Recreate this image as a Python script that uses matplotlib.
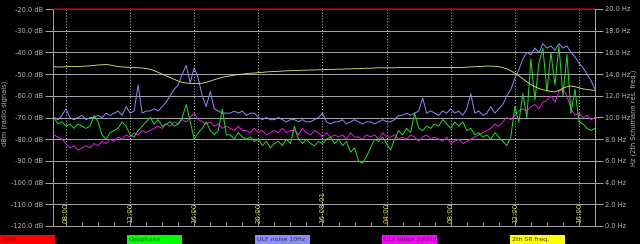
import numpy as np
import matplotlib
matplotlib.use("Agg")
import matplotlib.pyplot as plt
from matplotlib.patches import Rectangle

# time axis in hours since 16-07-31 00:00 (24 = 16-08-01 00:00), 15 min steps
hours = np.arange(7.25, 41.01, 0.25)

# ULF noise 10Hz (dB)
ulf10 = [
    -70, -71, -69, -66,   -70, -71, -70, -69,   -71, -70, -70, -69,
    -70, -68, -69, -68,   -67, -69, -65, -68,   -67, -55, -68, -67,
    -67, -66, -67, -65,   -63, -60, -57, -55,   -50, -46, -54, -47,
    -52, -60, -65, -58,   -66, -67, -68, -68,   -68, -67, -68, -67,
    -69, -68, -68, -70,   -71, -70, -71, -71,   -70, -71, -72, -71,
    -71, -72, -71, -72,   -72, -71, -70, -68,   -72, -73, -72, -72,
    -71, -73, -72, -71,   -72, -73, -72, -72,   -73, -72, -71, -72,
    -72, -71, -69, -69,   -68, -69, -68, -67,   -61, -68, -67, -68,
    -69, -67, -68, -66,   -68, -67, -69, -66,   -59, -68, -67, -69,
    -68, -65, -68, -66,   -64, -60, -57, -52,   -48, -43, -40, -41,
    -38, -40, -36, -38,   -37, -39, -36, -38,   -37, -40, -42, -45,
    -47, -50, -53, -57,
]

# Geophone (dB)
geophone = [
    -70, -73, -72, -74,   -73, -75, -73, -74,   -75, -74, -69, -72,
    -78, -80, -77, -76,   -75, -72, -74, -78,   -79, -76, -74, -72,
    -70, -73, -71, -74,   -73, -72, -74, -73,   -70, -64, -72, -80,
    -77, -75, -72, -76,   -78, -76, -66, -78,   -78, -80, -77, -79,
    -80, -79, -81, -80,   -83, -81, -84, -82,   -81, -83, -80, -82,
    -74, -80, -82, -80,   -82, -83, -81, -82,   -80, -79, -82, -80,
    -83, -81, -86, -84,   -90, -91, -88, -84,   -80, -81, -79, -82,
    -85, -80, -76, -78,   -75, -77, -68, -75,   -76, -74, -75, -73,
    -74, -71, -73, -75,   -72, -74, -72, -76,   -75, -78, -77, -79,
    -78, -80, -77, -79,   -81, -83, -79, -65,   -72, -59, -70, -43,
    -62, -45, -38, -58,   -40, -55, -37, -60,   -41, -68, -57, -72,
    -73, -75, -76, -75,
]

# ULF noise 100Hz (dB)
ulf100 = [
    -78, -79, -80, -82,   -84, -83, -85, -84,   -83, -84, -82, -83,
    -81, -82, -80, -81,   -79, -80, -78, -79,   -77, -78, -76, -77,
    -76, -75, -74, -75,   -73, -74, -72, -73,   -71, -72, -70, -68,
    -71, -72, -73, -72,   -74, -73, -75, -74,   -75, -76, -74, -76,
    -76, -77, -75, -77,   -76, -78, -77, -76,   -77, -75, -77, -76,
    -76, -78, -75, -77,   -78, -76, -77, -79,   -77, -79, -78, -79,
    -78, -80, -77, -79,   -79, -80, -78, -79,   -78, -80, -77, -79,
    -79, -78, -80, -79,   -80, -78, -79, -81,   -79, -78, -80, -79,
    -80, -81, -79, -82,   -81, -80, -82, -81,   -80, -79, -78, -77,
    -76, -75, -73, -74,   -72, -70, -71, -69,   -67, -66, -67, -65,
    -64, -66, -63, -62,   -60, -63, -58, -57,   -60, -66, -69, -68,
    -70, -69, -71, -70,
]

# 2th Schumann resonance frequency, drawn on the dB scale (dB)
sr_freq = [
    -46.6, -46.7, -46.7, -46.6,   -46.5, -46.5, -46.6, -46.4,   -46.3, -46.2, -46.0, -45.8,
    -45.7, -45.6, -45.8, -46.2,   -46.5, -46.7, -46.8, -46.9,   -47.0, -47.1, -47.2, -47.4,
    -47.8, -48.4, -49.2, -50.0,   -50.8, -51.6, -52.4, -53.2,   -53.8, -54.1, -54.3, -54.3,
    -54.3, -54.2, -53.8, -53.2,   -52.6, -52.0, -51.5, -51.1,   -50.8, -50.5, -50.2, -50.0,
    -49.8, -49.6, -49.5, -49.3,   -49.2, -49.0, -48.9, -48.8,   -48.7, -48.6, -48.5, -48.4,
    -48.4, -48.3, -48.2, -48.2,   -48.1, -48.1, -48.0, -48.0,   -47.9, -47.8, -47.8, -47.7,
    -47.7, -47.6, -47.6, -47.5,   -47.5, -47.4, -47.3, -47.3,   -47.2, -47.1, -47.1, -47.1,
    -47.1, -47.1, -47.0, -47.0,   -47.0, -47.0, -47.0, -47.0,   -47.0, -47.0, -47.0, -47.0,
    -47.0, -47.0, -47.0, -47.0,   -47.0, -47.0, -46.9, -46.8,   -46.7, -46.6, -46.5, -46.4,
    -46.3, -46.3, -46.4, -46.6,   -47.0, -47.6, -48.5, -49.6,   -50.8, -52.2, -53.6, -54.8,
    -55.8, -56.6, -57.2, -57.6,   -58.0, -58.2, -57.5, -56.5,   -55.8, -55.5, -55.8, -56.3,
    -56.8, -57.1, -57.3, -57.5,
]

# Time trace sits on the top border
time_level = [-20.0] * len(hours)

db_ticks = [-20, -30, -40, -50, -60, -70, -80, -90, -100, -110, -120]
hz_ticks = [20, 18, 16, 14, 12, 10, 8, 6, 4, 2, 0]
time_pos = [8, 12, 16, 20, 24, 28, 32, 36, 40]
time_labels = ["08:00", "12:00", "16:00", "20:00", "16-08-01", "04:00", "08:00", "12:00", "16:00"]

legend_names = ["Time", "Geophone", "ULF noise 10Hz", "ULF noise 100Hz", "2th SR freq."]
legend_colors = ["#ff0000", "#00ff00", "#8c8cff", "#ff00ff", "#ffff00"]

plt.rcParams["font.family"] = ["DejaVu Sans"]
txt = "#b8b8b8"

fig = plt.figure(figsize=(6.4, 2.44), dpi=100, facecolor="black")
ax = fig.add_axes([53 / 640, 1 - 226 / 244, 542 / 640, 217 / 244], facecolor="black")

# grid
for d in db_ticks:
    ax.axhline(d, color="#a8a8a8", lw=0.7, zorder=1)
for t in time_pos:
    ax.axvline(t, color="#d0d0d0", lw=0.7, ls=(0, (1, 2)), zorder=1)

ax.plot(hours, ulf10, color="#8c8cff", lw=0.7, zorder=3)
ax.plot(hours, ulf100, color="#e020e0", lw=0.7, zorder=4)
ax.plot(hours, geophone, color="#20e020", lw=0.7, zorder=5)
ax.plot(hours, sr_freq, color="#e8e880", lw=0.6, zorder=6)
ax.plot(hours, time_level, color="#900000", lw=1.2, zorder=7, clip_on=False)

ax.set_xlim(7.19, 41.0)
ax.set_ylim(-120, -20)

ax.spines["top"].set_visible(False)
for s in ["left", "right", "bottom"]:
    ax.spines[s].set_color("#a8a8a8")
    ax.spines[s].set_linewidth(0.7)

ax.set_yticks(db_ticks)
ax.set_yticklabels(["%.1f dB" % d for d in db_ticks])
ax.tick_params(axis="y", colors="#a8a8a8", labelcolor=txt, labelsize=4.8, length=6, width=0.7, pad=1)

# hourly small ticks on bottom, pointing up
ax.set_xticks(np.arange(8, 41, 1))
ax.set_xticklabels([])
ax.tick_params(axis="x", direction="in", colors="#a8a8a8", length=3, width=0.6)

for t, lab in zip(time_pos, time_labels):
    ax.text(t, -118.5, lab, rotation=90, ha="center", va="bottom",
            color="#e0e070", fontsize=5, zorder=8)

fig.text(5 / 640, 1 - 113 / 244, "dBm (radio signals)", rotation=90, color=txt,
         fontsize=4.8, ha="center", va="center")

ax2 = ax.twinx()
ax2.set_ylim(0, 20)
ax2.set_yticks(hz_ticks)
ax2.set_yticklabels(["%.1f Hz" % h for h in hz_ticks])
ax2.tick_params(axis="y", colors="#a8a8a8", labelcolor=txt, labelsize=4.8, length=6, width=0.7, pad=1)
for s in ["top", "left", "bottom"]:
    ax2.spines[s].set_visible(False)
ax2.spines["right"].set_color("#a8a8a8")
ax2.spines["right"].set_linewidth(0.7)

fig.text(634 / 640, 1 - 118 / 244, "Hz (2th Schumann res. freq.)", rotation=90, color=txt,
         fontsize=4.8, ha="center", va="center")

# legend boxes along the bottom
box_x = [0, 127, 255, 382, 510]
for bx, name, col in zip(box_x, legend_names, legend_colors):
    fig.add_artist(Rectangle((bx / 640, 0), 55 / 640, 9 / 244,
                             transform=fig.transFigure, facecolor=col, edgecolor="none"))
    fig.text((bx + 2) / 640, 4.5 / 244, name, color="#303030", fontsize=4.5,
             ha="left", va="center")

fig.savefig("out.png", dpi=100, facecolor="black")
